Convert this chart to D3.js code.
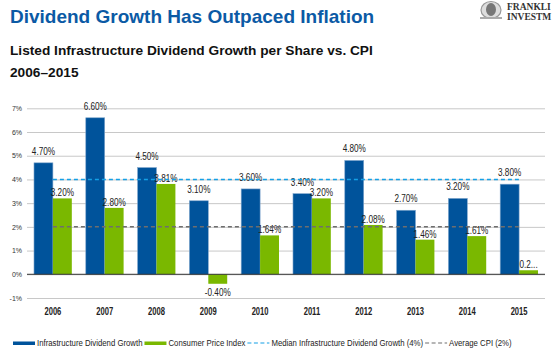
<!DOCTYPE html>
<meta charset="utf-8">
<script src="https://cdn.jsdelivr.net/npm/d3@7"></script>
<style>
  body { margin: 0; background: #fff; }
  svg { display: block; }
  text { font-family: "Liberation Sans", Arial, sans-serif; }
</style>
<svg id="graph" width="556" height="353"></svg>
<script>

// data
var years = ["2006", "2007", "2008", "2009", "2010", "2011", "2012", "2013", "2014", "2015"];
var dividendGrowth = [4.70, 6.60, 4.50, 3.10, 3.60, 3.40, 4.80, 2.70, 3.20, 3.80];
var cpi = [3.20, 2.80, 3.81, -0.40, 1.64, 3.20, 2.08, 1.46, 1.61, 0.17];
var dividendLabels = ["4.70%", "6.60%", "4.50%", "3.10%", "3.60%", "3.40%", "4.80%", "2.70%", "3.20%", "3.80%"];
var cpiLabels = ["3.20%", "2.80%", "3.81%", "-0.40%", "1.64%", "3.20%", "2.08%", "1.46%", "1.61%", "0.2..."];
var yTicks = [-1, 0, 1, 2, 3, 4, 5, 6, 7];
var medianDividend = 4;
var averageCpi = 2;
var seriesNames = ["Infrastructure Dividend Growth", "Consumer Price Index",
                   "Median Infrastructure Dividend Growth (4%)", "Average CPI (2%)"];

var blue = "#00539b", green = "#7ab800", lightBlue = "#14a0e6", grey = "#6e6e6e";

// no narrow font installed: draw text squeezed horizontally by k
function narrowText(parent, px, py, str, k, size, anchor, weight) {
  var t = parent.append("text")
      .attr("transform", "translate(" + px + "," + py + ") scale(" + k + ",1)")
      .attr("text-anchor", anchor || "start")
      .style("font-size", size + "px")
      .style("font-weight", weight || "normal")
      .attr("fill", "#222")
      .text(str);
  return t.node().getComputedTextLength() * k;
}

var svg = d3.select("#graph");

// headings
svg.append("text")
    .attr("x", 10).attr("y", 23)
    .style("font", "bold 19px 'Liberation Sans', Arial, sans-serif")
    .attr("fill", "#0b5aa5")
    .text("Dividend Growth Has Outpaced Inflation");

svg.append("text")
    .attr("x", 10).attr("y", 55)
    .style("font", "bold 13.7px 'Liberation Sans', Arial, sans-serif")
    .attr("fill", "#111")
    .text("Listed Infrastructure Dividend Growth per Share vs. CPI");

svg.append("text")
    .attr("x", 10).attr("y", 77)
    .style("font", "bold 13.7px 'Liberation Sans', Arial, sans-serif")
    .attr("fill", "#111")
    .text("2006\u20132015");

// logo, rough
var logo = svg.append("g");
logo.append("ellipse").attr("cx", 491).attr("cy", 10).attr("rx", 10).attr("ry", 8.5)
    .attr("fill", "#ddd").attr("stroke", "#999").attr("stroke-width", 1.2);
logo.append("ellipse").attr("cx", 491).attr("cy", 9.5).attr("rx", 5).attr("ry", 6.5)
    .attr("fill", "#777");
logo.append("rect").attr("x", 480).attr("y", 17).attr("width", 22).attr("height", 2).attr("fill", "#aaa");
logo.append("text").attr("x", 507).attr("y", 10)
    .style("font", "bold 9.5px 'Liberation Serif', 'DejaVu Serif', serif")
    .attr("fill", "#333").text("FRANKLI");
logo.append("text").attr("x", 507).attr("y", 20)
    .style("font", "bold 9.5px 'Liberation Serif', 'DejaVu Serif', serif")
    .attr("fill", "#333").text("INVESTM");

// chart area
var left = 27, right = 545;

var x = d3.scaleBand().domain(years).range([left, right]).paddingInner(0.27).paddingOuter(0.135);
var x1 = d3.scaleBand().domain([0, 1]).range([0, x.bandwidth()]);
var y = d3.scaleLinear().domain([-1, 7]).range([298, 108.3]);

var g = svg.append("g");

g.append("g")
    .attr("class", "grid")
    .call(d3.axisLeft(y).tickValues(yTicks).tickSize(-(right - left)).tickFormat(function(d) { return d + "%"; }))
    .attr("transform", "translate(" + left + ",0)")
    .call(function(a) {
      a.select(".domain").remove();
      a.selectAll(".tick line").attr("stroke", "#c8c8c8").attr("stroke-width", 1);
      a.selectAll(".tick text")
        .attr("x", -5)
        .attr("fill", "#333")
        .style("font", "7px 'Liberation Sans', Arial, sans-serif");
    });

var groups = g.selectAll(".year")
    .data(years)
    .enter().append("g")
      .attr("class", "year")
      .attr("transform", function(d) { return "translate(" + x(d) + ",0)"; });

groups.append("rect")
    .attr("x", x1(0))
    .attr("width", x1.bandwidth())
    .attr("y", function(d, i) { return y(Math.max(0, dividendGrowth[i])); })
    .attr("height", function(d, i) { return Math.abs(y(dividendGrowth[i]) - y(0)); })
    .attr("fill", blue)
    .attr("stroke", "#7fa6cc").attr("stroke-width", 0.6);

groups.append("rect")
    .attr("x", x1(1))
    .attr("width", x1.bandwidth())
    .attr("y", function(d, i) { return y(Math.max(0, cpi[i])); })
    .attr("height", function(d, i) { return Math.abs(y(cpi[i]) - y(0)); })
    .attr("fill", green);

// zero line
g.append("line")
    .attr("x1", left).attr("x2", right)
    .attr("y1", y(0)).attr("y2", y(0))
    .attr("stroke", "#333").attr("stroke-width", 1);

// reference lines, from first to last year centre
var first = x(years[0]) + x.bandwidth() / 2,
    last = x(years[years.length - 1]) + x.bandwidth() / 2;

g.append("line")
    .attr("x1", first).attr("x2", last)
    .attr("y1", y(medianDividend)).attr("y2", y(medianDividend))
    .attr("stroke", lightBlue).attr("stroke-width", 1.5).attr("stroke-dasharray", "4,3");

g.append("line")
    .attr("x1", first).attr("x2", last)
    .attr("y1", y(averageCpi)).attr("y2", y(averageCpi))
    .attr("stroke", grey).attr("stroke-width", 1.5).attr("stroke-dasharray", "4,3");

// value labels
groups.each(function(d, i) {
  var grp = d3.select(this);
  narrowText(grp, x1(0) + x1.bandwidth() / 2, y(dividendGrowth[i]) - 8,
             dividendLabels[i], 0.82, 10, "middle");
  narrowText(grp, x1(1) + x1.bandwidth() / 2,
             cpi[i] < 0 ? y(cpi[i]) + 12 : y(cpi[i]) - 2,
             cpiLabels[i], 0.82, 10, "middle");
});

// year labels
years.forEach(function(yr) {
  narrowText(g, x(yr) + x.bandwidth() / 2, 315, yr, 0.76, 10, "middle", "bold");
});

// legend
var legend = svg.append("g");
var lx = 13, ly = 346;
var swatches = [
  {type: "bar", color: blue},
  {type: "bar", color: green},
  {type: "dash", color: lightBlue},
  {type: "dash", color: grey}
];
swatches.forEach(function(s, i) {
  if (s.type === "bar") {
    legend.append("rect").attr("x", lx).attr("y", ly - 4.5).attr("width", 22).attr("height", 3.5).attr("fill", s.color);
  } else {
    legend.append("line").attr("x1", lx).attr("x2", lx + 22).attr("y1", ly - 3).attr("y2", ly - 3)
      .attr("stroke", s.color).attr("stroke-width", 1.2).attr("stroke-dasharray", "4,2.5");
  }
  var w = narrowText(legend, lx + 24, ly, seriesNames[i], 0.82, 9.5, "start");
  lx += 24 + w + 2;
});

</script>
